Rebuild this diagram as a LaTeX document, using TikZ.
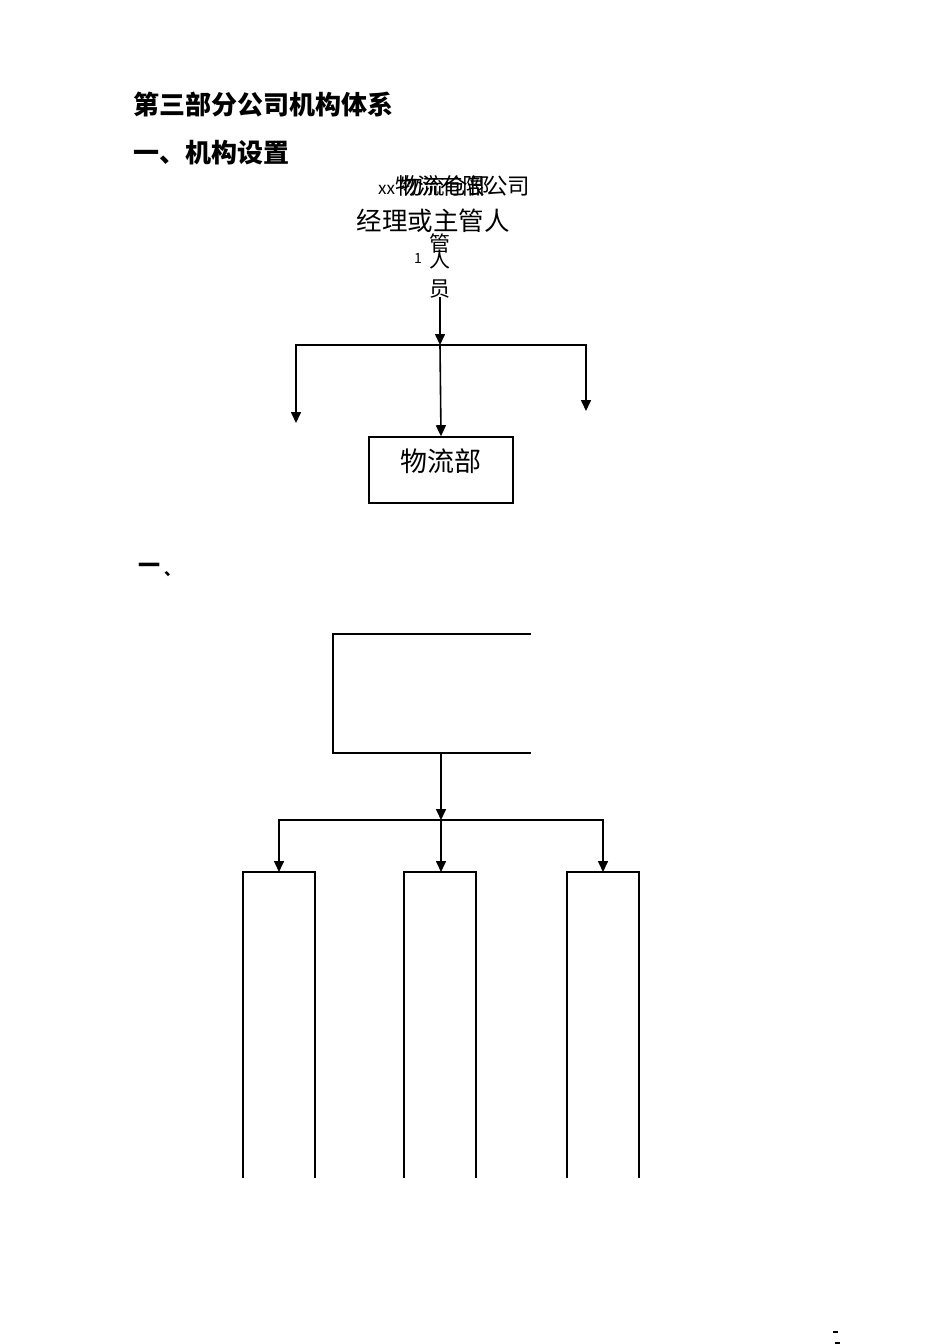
\documentclass[tikz,border=0pt]{standalone}
\usepackage{fontspec}
\setmainfont{Noto Sans CJK SC}
\usetikzlibrary{arrows.meta,positioning}

\begin{document}
\begin{tikzpicture}[
  x=1pt, y=-1pt,
  heading/.style={anchor=west, inner sep=0pt, font=\fontsize{26}{26}\selectfont\bfseries},
  chart/.style={inner sep=0pt, font=\fontsize{21}{21}\selectfont},
  unitbox/.style={rectangle, draw=black, line width=1.6pt, minimum width=144pt, minimum height=66pt},
  arrow/.style={-{Triangle[length=11pt,width=10pt]}, line width=1.6pt, black},
  line/.style={line width=1.6pt, black}
]
\useasboundingbox (0,0) rectangle (950,1344);

% Headings
\node[heading] (title) at (133,105) {第三部分公司机构体系};
\node[heading] (sec1) at (133,153) {一、机构设置};

% Top of the first chart (overlapping texts)
\node[chart, anchor=west, font=\fontsize{22.5}{22.5}\selectfont] (company) at (378,186) {{\fontsize{17}{17}\selectfont xx}物流有限公司};
\node[chart, anchor=west, font=\fontsize{22.5}{22.5}\selectfont] (dept) at (400,186) {物流仓部};
\node[chart, font=\fontsize{25.5}{25.5}\selectfont] (manager) at (433,221) {经理或主管人};
\node[chart] (c1) at (440,243) {管};
\node[chart] (c2) at (440,260) {人};
\node[chart, font=\fontsize{14}{14}\selectfont] (num) at (418,259) {1};
\node[chart] (c3) at (440,289) {员};

% First chart connectors
\coordinate (t1) at (440,297);
\coordinate (j1) at (440,345);
\coordinate (la) at (296,423);
\coordinate (ra) at (586,411);
\node[unitbox] (wl) at (441,470) {};
\node[chart, font=\fontsize{27}{27}\selectfont] (wltext) at (441,461) {物流部};

\draw[arrow] (t1) -- (j1);
\draw[arrow] (j1) -- (wl.north);
\draw[arrow] (j1) -| (la);
\draw[arrow] (j1) -| (ra);

% Section two
\node[heading, font=\fontsize{22}{22}\selectfont\bfseries] (sec2) at (138,568) {一};
\node[chart, font=\fontsize{16}{16}\selectfont\bfseries] (comma) at (172,574) {、};

% Second chart: top box, open on the right
\draw[line] (531,634) -- (333,634) -- (333,753) -- (531,753);
\draw[line, line width=2.2pt] (333,634) -- (333,753);
\coordinate (b2) at (441,753);
\coordinate (j2) at (441,820);
\draw[arrow] (b2) -- (j2);
\draw[line] (279,820) -- (603,820);

% Lower boxes, open at the bottom
\foreach \name/\xl/\xa in {left/243/279, mid/404/441, right/567/603} {
  \draw[line] (\xl,1178) -- (\xl,872) -- (\xl+72,872) -- (\xl+72,1178);
  \coordinate (\name) at (\xa,872);
  \draw[arrow] (j2) -| (\name);
}

% Page marks
\draw[line width=1.2pt] (833,1332) -- (838,1332);
\draw[line width=1.2pt] (835,1343) -- (840,1343);

\end{tikzpicture}
\end{document}
